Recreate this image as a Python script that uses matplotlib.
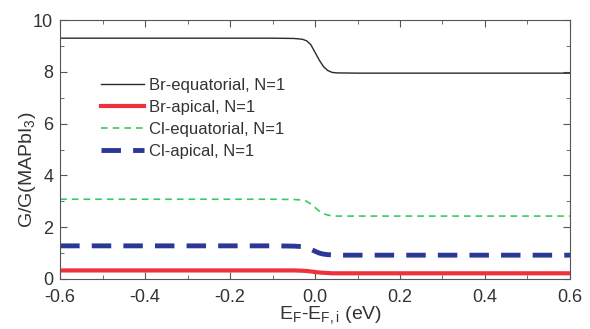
import numpy as np
import matplotlib.pyplot as plt
from matplotlib.ticker import MultipleLocator

plt.rcParams['font.family'] = ['Liberation Sans', 'DejaVu Sans']
plt.rcParams['axes.unicode_minus'] = False

# energy points (eV), dense around the step at E_F,i
energy = [-0.6, -0.1, -0.05, -0.03, -0.02, -0.01, 0.0, 0.01, 0.02, 0.03, 0.04, 0.05, 0.1, 0.6]

br_eq = [9.30, 9.30, 9.29, 9.26, 9.20, 9.05, 8.75, 8.45, 8.20, 8.05, 7.98, 7.96, 7.95, 7.95]
br_ap = [0.33, 0.33, 0.33, 0.32, 0.31, 0.29, 0.27, 0.25, 0.24, 0.23, 0.22, 0.22, 0.22, 0.22]
cl_eq = [3.08, 3.08, 3.07, 3.05, 3.00, 2.90, 2.76, 2.62, 2.52, 2.47, 2.44, 2.43, 2.43, 2.43]
cl_ap = [1.28, 1.28, 1.27, 1.25, 1.22, 1.15, 1.07, 1.00, 0.96, 0.94, 0.93, 0.92, 0.92, 0.92]

labels = ['Br-equatorial, N=1', 'Br-apical, N=1', 'Cl-equatorial, N=1', 'Cl-apical, N=1']

fig = plt.figure(figsize=(5.9, 3.29), dpi=100)
ax = fig.add_axes([0.102, 0.152, 0.864, 0.787])

ax.plot(energy, br_eq, color='#2a2a2a', lw=1.0, label=labels[0])
ax.plot(energy, br_ap, color='#f0303c', lw=3.0, label=labels[1])
ax.plot(energy, cl_eq, color='#3cc860', lw=1.2, ls=(0, (4, 3)), label=labels[2])
ax.plot(energy, cl_ap, color='#2b3896', lw=3.5, ls=(0, (4, 2.5)), label=labels[3])

ax.set_xlim(-0.6, 0.6)
ax.set_ylim(0, 10)
ax.xaxis.set_major_locator(MultipleLocator(0.2))
ax.xaxis.set_minor_locator(MultipleLocator(0.1))
ax.yaxis.set_major_locator(MultipleLocator(2))
ax.yaxis.set_minor_locator(MultipleLocator(1))
ax.tick_params(which='both', direction='in', top=True, right=True, colors='#555555',
               labelcolor='#333333', labelsize=13)
ax.tick_params(axis='x', which='major', pad=7)
ax.tick_params(axis='y', which='major', pad=5)
ax.tick_params(which='major', length=5)
ax.tick_params(which='minor', length=3)
for s in ax.spines.values():
    s.set_color('#555555')

ax.set_xlabel('E$_\\mathregular{F}$-E$_\\mathregular{F,i}$ (eV)', fontsize=14, color='#333333')
ax.set_ylabel('G/G(MAPbI$_\\mathregular{3}$)', fontsize=14, color='#333333')
ax.xaxis.set_label_coords(0.53, -0.1)
ax.yaxis.set_label_coords(-0.043, 0.42)

ax.legend(loc='upper left', bbox_to_anchor=(0.05, 0.835), frameon=False, fontsize=12,
          handlelength=2.6, handletextpad=0.3, labelspacing=0.42, labelcolor='#333333')

fig.savefig('out.png', dpi=100)
